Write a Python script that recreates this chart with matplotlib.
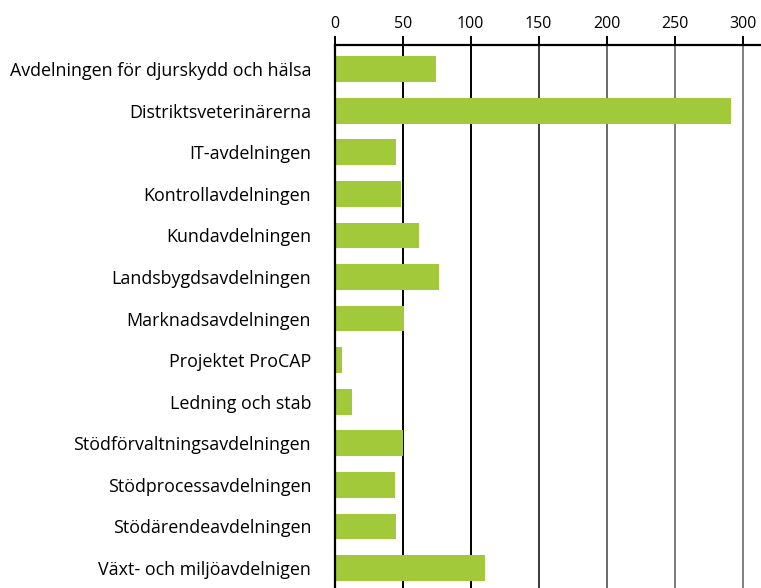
import matplotlib.pyplot as plt

categories = [
    "Avdelningen för djurskydd och hälsa",
    "Distriktsveterinärerna",
    "IT-avdelningen",
    "Kontrollavdelningen",
    "Kundavdelningen",
    "Landsbygdsavdelningen",
    "Marknadsavdelningen",
    "Projektet ProCAP",
    "Ledning och stab",
    "Stödförvaltningsavdelningen",
    "Stödprocessavdelningen",
    "Stödärendeavdelningen",
    "Växt- och miljöavdelnigen",
]
values = [74.5, 291.5, 45, 49, 62, 77, 51, 5.5, 12.5, 50.5, 44.5, 45, 110.5]
xticks = [0, 50, 100, 150, 200, 250, 300]

plt.rcParams['font.family'] = ['Open Sans', 'DejaVu Sans']

fig = plt.figure(figsize=(7.61, 5.88), dpi=100)
ax = fig.add_axes([0.4398, 0.0, 0.5602, 0.9235])

pos = list(range(len(categories)))

# gridlines: black on the left fading to grey
grid_colors = ['#000000', '#000000', '#000000', '#3a3a3a', '#6a6a6a', '#7a7a7a', '#808080']
for x, c in zip(xticks[1:], grid_colors[1:]):
    ax.axvline(x, color=c, lw=1.4, zorder=0)

ax.barh(pos, values, height=0.62, color='#a1c93a', zorder=2)

ax.set_xlim(0, 313.5)
ax.set_ylim(12.48, -0.58)

ax.xaxis.tick_top()
ax.set_xticks(xticks)
ax.set_xticklabels([str(t) for t in xticks], fontsize=11.5)
ax.tick_params(axis='x', length=6.5, width=1.4, color='#000000', pad=3)

ax.set_yticks(pos)
ax.set_yticklabels(categories, fontsize=12.9)
ax.tick_params(axis='y', length=0, pad=17)

for s in ['right', 'bottom']:
    ax.spines[s].set_visible(False)
ax.spines['top'].set_linewidth(1.6)
ax.spines['left'].set_linewidth(1.6)
ax.spines['left'].set_zorder(3)

plt.savefig('out.png', dpi=100)
